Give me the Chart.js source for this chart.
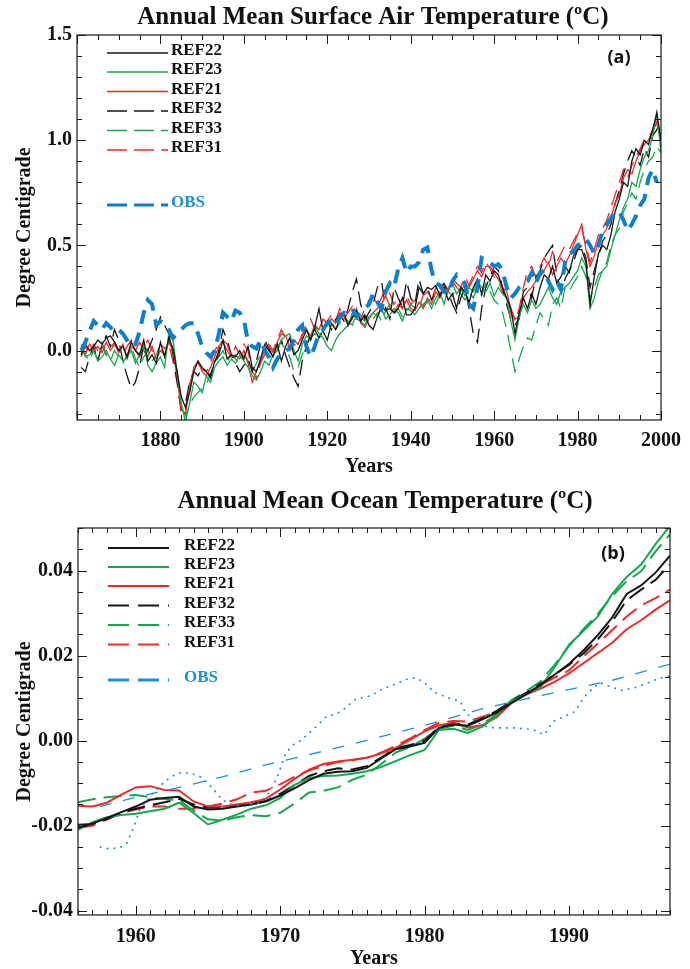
<!DOCTYPE html>
<html>
<head>
<meta charset="utf-8">
<script src="https://cdn.jsdelivr.net/npm/chart.js@4.4.1/dist/chart.umd.min.js"></script>
<style>
  html, body { margin: 0; padding: 0; background: #fff; }
  #wrap { position: relative; width: 690px; height: 969px; }
  .pane { position: absolute; left: 0; width: 690px; }
</style>
</head>
<body>
<div id="wrap">
  <div class="pane" style="top:0;height:480px"><canvas id="chartA" width="690" height="480" style="width:690px;height:480px"></canvas></div>
  <div class="pane" style="top:480px;height:489px"><canvas id="chartB" width="690" height="489" style="width:690px;height:489px"></canvas></div>
</div>
<script>
// ===== Panel (a): surface air temperature, annual values 1861-2000 =====
const startA = 1861;
const ref22A = [
  -0.02, 0.03, 0.0, 0.02, 0.05, 0.03, 0.06, 0.07, 0.04, 0.0,
  0.02, -0.03, 0.04, 0.0, -0.02, 0.05, -0.05, -0.02, -0.06, 0.04,
  -0.03, 0.06, 0.01, -0.1, -0.22, -0.27, -0.2, -0.1, -0.05, -0.08,
  -0.1, -0.13, -0.05, -0.02, 0.05, -0.04, -0.02, -0.03, 0.0, -0.04,
  0.02, -0.08, -0.1, -0.04, 0.03, 0.0, -0.03, 0.03, -0.05, 0.02,
  0.06, -0.02, 0.0, 0.05, 0.1, 0.05, 0.11, 0.2, 0.09, 0.05,
  0.13, 0.1, 0.15, 0.18, 0.12, 0.16, 0.19, 0.14, 0.17, 0.12,
  0.1, 0.16, 0.21, 0.19, 0.2, 0.18, 0.2, 0.25, 0.17, 0.17,
  0.2, 0.3, 0.27, 0.3, 0.29, 0.31, 0.26, 0.3, 0.24, 0.27,
  0.2, 0.3, 0.28, 0.23, 0.3, 0.34, 0.27, 0.36, 0.33, 0.38,
  0.36, 0.3, 0.25, 0.2, 0.08, 0.18, 0.25, 0.2, 0.27, 0.22,
  0.3, 0.36, 0.34, 0.4, 0.32, 0.35, 0.4, 0.37, 0.45, 0.48,
  0.48, 0.42, 0.22, 0.35, 0.46, 0.5, 0.48, 0.55, 0.66, 0.72,
  0.8, 0.78, 0.9, 0.96, 0.93, 1.0, 0.98, 1.05, 1.13, 1.0
];
const ref23A = [
  0.02, -0.03, -0.02, 0.0, -0.05, -0.03, 0.0, -0.04, -0.07, -0.02,
  -0.05, -0.03, 0.0, -0.06, -0.02, 0.03, -0.07, -0.1, -0.06, -0.03,
  -0.08, 0.08, 0.05, -0.1, -0.25, -0.34, -0.25, -0.15, -0.17, -0.2,
  -0.12, -0.15, -0.08, -0.05, -0.03, -0.07, -0.04, -0.06, -0.02, -0.05,
  -0.08, -0.12, -0.14, -0.1, -0.05, -0.07, -0.02, 0.0, 0.05, 0.07,
  0.08, 0.0, -0.05, 0.03, 0.07, 0.05, 0.12, 0.08, 0.06, 0.02,
  0.0, 0.05, 0.08, 0.1, 0.12, 0.18, 0.15, 0.14, 0.12, 0.16,
  0.18, 0.16, 0.2, 0.15, 0.17, 0.2, 0.18, 0.14, 0.2, 0.19,
  0.17, 0.2, 0.22, 0.24, 0.2, 0.25, 0.28, 0.22, 0.3, 0.32,
  0.27, 0.3, 0.26, 0.3, 0.28, 0.33, 0.3, 0.28, 0.32, 0.26,
  0.3, 0.27, 0.25, 0.14, 0.05, 0.16, 0.22, 0.18, 0.24, 0.2,
  0.22, 0.26, 0.3, 0.25, 0.22, 0.28, 0.3, 0.32, 0.35, 0.38,
  0.44, 0.4, 0.2, 0.25, 0.33, 0.38, 0.4, 0.48, 0.55, 0.62,
  0.68, 0.72, 0.8, 0.78, 0.86, 0.92, 0.95, 1.02, 1.13, 0.94
];
const ref21A = [
  0.0, -0.02, 0.03, 0.0, 0.02, -0.01, 0.04, 0.0, 0.03, -0.01,
  0.03, -0.04, 0.02, 0.0, 0.04, 0.0, -0.03, 0.02, -0.04, 0.0,
  -0.02, 0.04, 0.0, -0.12, -0.28, -0.3, -0.18, -0.08, -0.05, -0.1,
  -0.12, -0.08, -0.03, 0.02, 0.05, 0.03, -0.03, -0.02, -0.04, 0.0,
  -0.06, -0.15, -0.1, -0.05, 0.0, 0.02, -0.01, 0.04, 0.08, 0.07,
  0.02, 0.05, 0.03, 0.08, 0.1, 0.07, 0.12, 0.1, 0.15, 0.13,
  0.15, 0.13, 0.18, 0.16, 0.12, 0.15, 0.2, 0.13, 0.11, 0.15,
  0.18, 0.2, 0.22, 0.26, 0.21, 0.18, 0.22, 0.2, 0.24, 0.2,
  0.19, 0.23, 0.2, 0.25, 0.22, 0.28, 0.25, 0.3, 0.28, 0.33,
  0.3, 0.28, 0.32, 0.3, 0.34, 0.38, 0.35, 0.4, 0.4, 0.37,
  0.34, 0.3, 0.28, 0.2, 0.15, 0.16, 0.25, 0.28, 0.3, 0.33,
  0.35, 0.38, 0.42, 0.36, 0.4, 0.44, 0.41, 0.45, 0.5, 0.55,
  0.6, 0.48, 0.4, 0.45, 0.52, 0.55, 0.58, 0.63, 0.7, 0.74,
  0.82, 0.86, 0.84, 0.9, 0.95, 0.98, 1.0, 1.05, 1.08, 1.0
];
const ref32A = [
  -0.08, -0.1, -0.03, 0.02, -0.05, 0.03, 0.07, 0.02, 0.1, 0.05,
  -0.05, -0.12, -0.18, -0.15, -0.08, 0.03, 0.0, 0.05, 0.1, 0.16,
  0.12, 0.08, -0.02, -0.15, -0.28, -0.25, -0.15, -0.1, -0.12, -0.08,
  -0.1, -0.12, -0.06, 0.0, 0.1, 0.05, -0.02, -0.06, -0.1, -0.07,
  -0.04, -0.1, -0.05, 0.03, 0.05, 0.01, -0.03, 0.0, 0.05, -0.02,
  -0.08, -0.13, -0.17, -0.05, 0.02, 0.08, 0.1, 0.06, 0.1, 0.14,
  0.1, 0.15, 0.17, 0.14, 0.2, 0.28, 0.34, 0.22, 0.15, 0.18,
  0.22, 0.3, 0.33, 0.2, 0.15, 0.3, 0.25, 0.21, 0.33, 0.25,
  0.22, 0.34, 0.27, 0.3, 0.24, 0.28, 0.3, 0.32, 0.28, 0.22,
  0.18, 0.25, 0.3, 0.2, 0.08, 0.04, 0.2, 0.3, 0.35, 0.4,
  0.38, 0.3, 0.22, 0.15, 0.12, 0.15, 0.28, 0.3, 0.25, 0.35,
  0.38, 0.44, 0.47, 0.5, 0.36, 0.28, 0.34, 0.38, 0.42, 0.48,
  0.5, 0.44, 0.3, 0.38, 0.45, 0.52, 0.55, 0.6, 0.7, 0.76,
  0.84, 0.9, 0.95, 0.92, 0.88, 0.96, 0.92, 1.02, 1.05, 1.1
];
const ref33A = [
  0.03, -0.02, -0.05, 0.0, -0.04, 0.02, -0.02, -0.05, 0.0, -0.03,
  -0.06, -0.02, 0.02, -0.04, -0.08, -0.03, 0.0, -0.05, -0.02, 0.03,
  -0.03, 0.05, 0.0, -0.12, -0.27, -0.31, -0.26, -0.22, -0.2, -0.18,
  -0.16, -0.11, -0.06, -0.03, 0.0, -0.05, -0.02, -0.04, -0.06, -0.02,
  -0.05, -0.1, -0.06, -0.02, 0.02, -0.03, 0.0, 0.02, 0.04, 0.0,
  -0.03, -0.1, -0.08, -0.02, 0.03, 0.06, 0.08, 0.05, 0.1, 0.12,
  0.14, 0.1, 0.13, 0.16, 0.14, 0.12, 0.18, 0.16, 0.14, 0.17,
  0.15, 0.18, 0.14, 0.19, 0.22, 0.17, 0.2, 0.16, 0.18, 0.22,
  0.2, 0.24, 0.21, 0.23, 0.25, 0.22, 0.27, 0.24, 0.28, 0.26,
  0.3, 0.27, 0.24, 0.28, 0.25, 0.3, 0.26, 0.32, 0.28, 0.24,
  0.22, 0.18, 0.1, 0.0, -0.1, -0.04, 0.02, 0.06, 0.05, 0.12,
  0.18, 0.15, 0.12, 0.22, 0.25, 0.2, 0.3, 0.28, 0.32, 0.35,
  0.4, 0.35, 0.25, 0.3, 0.36, 0.38, 0.42, 0.5, 0.55, 0.58,
  0.66, 0.7, 0.75, 0.72, 0.8, 0.86, 0.9, 0.92, 0.97, 0.94
];
const ref31A = [
  -0.03, 0.02, -0.02, 0.03, 0.0, 0.04, -0.02, 0.01, 0.04, 0.0,
  -0.02, 0.02, 0.05, 0.0, -0.03, 0.02, 0.05, 0.0, -0.02, 0.03,
  0.01, 0.03, -0.05, -0.15, -0.3, -0.28, -0.16, -0.1, -0.06, -0.09,
  -0.1, -0.06, 0.0, 0.03, 0.04, 0.0, -0.03, 0.02, -0.02, 0.03,
  0.0, -0.1, -0.13, -0.06, -0.02, 0.03, 0.0, 0.05, 0.1, 0.06,
  0.0, 0.03, 0.02, 0.07, 0.12, 0.15, 0.1, 0.13, 0.11, 0.14,
  0.17, 0.14, 0.2, 0.15, 0.18, 0.21, 0.17, 0.15, 0.2, 0.24,
  0.26, 0.21, 0.25, 0.3, 0.27, 0.22, 0.25, 0.2, 0.26, 0.22,
  0.24, 0.21, 0.26, 0.28, 0.24, 0.3, 0.27, 0.31, 0.29, 0.34,
  0.32, 0.3, 0.35, 0.31, 0.36, 0.4, 0.37, 0.42, 0.39, 0.35,
  0.33, 0.28, 0.25, 0.18, 0.14, 0.2, 0.3, 0.38, 0.4, 0.35,
  0.4, 0.44, 0.4, 0.47, 0.42, 0.46, 0.5, 0.48, 0.52, 0.56,
  0.58, 0.5, 0.42, 0.48, 0.55, 0.58, 0.62, 0.68, 0.74, 0.8,
  0.86, 0.82, 0.88, 0.92, 0.96, 1.0, 1.02, 1.04, 1.09, 1.05
];
// observations 1861-1999
const obsA = [
  0.0, 0.04, 0.09, 0.14, 0.12, 0.1, 0.13, 0.11, 0.09, 0.1,
  0.08, 0.05, 0.02, 0.03, 0.09, 0.18, 0.24, 0.22, 0.12, 0.14,
  0.13, 0.1, 0.06, 0.08, 0.1, 0.12, 0.13, 0.13, 0.08, 0.02,
  -0.01, -0.03, 0.0, 0.08, 0.18, 0.16, 0.14, 0.19, 0.18, 0.15,
  0.04, 0.02, 0.01, 0.05, 0.0, -0.03, -0.08, -0.04, -0.01, 0.0,
  0.01, 0.05, 0.1, 0.12, 0.02, -0.03, 0.02, 0.08, 0.1, 0.13,
  0.14, 0.12, 0.16, 0.18, 0.18, 0.2, 0.16, 0.18, 0.2, 0.22,
  0.27, 0.23, 0.2, 0.28, 0.32, 0.3, 0.39, 0.44, 0.37, 0.4,
  0.4, 0.42, 0.48, 0.49, 0.38, 0.32, 0.31, 0.28, 0.27, 0.33,
  0.36, 0.34, 0.32, 0.22, 0.2, 0.3, 0.44, 0.43, 0.42, 0.4,
  0.41, 0.38, 0.3, 0.25, 0.27, 0.3, 0.32, 0.33, 0.37, 0.32,
  0.37, 0.38, 0.33, 0.29, 0.33, 0.29, 0.42, 0.46, 0.47, 0.5,
  0.51, 0.53, 0.5, 0.46, 0.5, 0.57, 0.6, 0.63, 0.66, 0.66,
  0.62, 0.57, 0.6, 0.64, 0.69, 0.72, 0.82, 0.86, 0.8
];
const xTicksA = [1880, 1900, 1920, 1940, 1960, 1980, 2000];
const yTicksA = [0.0, 0.5, 1.0, 1.5];

// ===== Panel (b): ocean temperature, annual values 1956-1997 =====
const startB = 1956;
const ref22B = [
  -0.0205, -0.0195, -0.0182, -0.0168, -0.0155, -0.0139, -0.0135, -0.0132, -0.0155, -0.0162,
  -0.016, -0.0155, -0.015, -0.0143, -0.0129, -0.0112, -0.0093, -0.0078, -0.0073, -0.0072,
  -0.0064, -0.0042, -0.002, -0.0014, -0.0005, 0.003, 0.0038, 0.0035, 0.005, 0.0066,
  0.0088, 0.0108, 0.013, 0.0155, 0.018, 0.0212, 0.0248, 0.029, 0.0345, 0.0365,
  0.0395, 0.0435
];
const ref23B = [
  -0.021, -0.0192, -0.018, -0.0175, -0.0172, -0.0166, -0.016, -0.0146, -0.017, -0.0197,
  -0.0186, -0.0174, -0.016, -0.0152, -0.0135, -0.0104, -0.0088, -0.0083, -0.0082, -0.0078,
  -0.0072, -0.0062, -0.0048, -0.0034, -0.0022, 0.0025, 0.0028, 0.0018, 0.0033, 0.006,
  0.0092, 0.0108, 0.0125, 0.0172, 0.0225, 0.0258, 0.0292, 0.0345, 0.0385, 0.0414,
  0.0462, 0.0505
];
const ref21B = [
  -0.0153, -0.0155, -0.0146, -0.0127, -0.011, -0.0107, -0.0116, -0.0117, -0.0143, -0.0155,
  -0.0155, -0.015, -0.0145, -0.0137, -0.0115, -0.009, -0.0068, -0.0055, -0.0049, -0.0045,
  -0.004, -0.003, -0.0017, 0.0002, 0.0022, 0.0036, 0.0042, 0.0031, 0.0036, 0.0055,
  0.0088, 0.0108, 0.0122, 0.0138, 0.0158, 0.0182, 0.0206, 0.023, 0.0262, 0.0283,
  0.0308, 0.033
];
const ref32B = [
  -0.0198, -0.0196, -0.0185, -0.017, -0.016, -0.0152, -0.0145, -0.0137, -0.015, -0.0158,
  -0.0156, -0.0152, -0.0148, -0.0142, -0.0125, -0.0105, -0.0083, -0.0072, -0.0065, -0.0068,
  -0.006, -0.004, -0.0018, -0.001, 0.0, 0.0032, 0.004, 0.0038, 0.0052, 0.007,
  0.0092, 0.0112, 0.0133, 0.0155, 0.0178, 0.0205, 0.0238, 0.028, 0.033, 0.0355,
  0.0378, 0.0415
];
const ref33B = [
  -0.0145, -0.0138, -0.0133, -0.013, -0.0128, -0.0133, -0.0137, -0.014, -0.0165, -0.0185,
  -0.0188, -0.018, -0.0175, -0.0178, -0.017, -0.0148, -0.0122, -0.0118, -0.011, -0.0092,
  -0.008, -0.0055, -0.0028, -0.0015, 0.0005, 0.0028, 0.0035, 0.0025, 0.0038, 0.0062,
  0.0095, 0.0115, 0.0138, 0.0178, 0.0222, 0.0262, 0.0298, 0.034, 0.0375, 0.0398,
  0.0445, 0.0485
];
const ref31B = [
  -0.0205, -0.02, -0.0185, -0.017, -0.0162, -0.0155, -0.0155, -0.016, -0.016, -0.0155,
  -0.0148, -0.0138, -0.0122, -0.0118, -0.0103, -0.0085, -0.007, -0.006, -0.005, -0.0046,
  -0.004, -0.0028, -0.0012, 0.0005, 0.0025, 0.0042, 0.0046, 0.0045, 0.0056, 0.0068,
  0.009, 0.011, 0.013, 0.0148, 0.0165, 0.0198, 0.0228, 0.026, 0.0292, 0.0318,
  0.0335, 0.0355
];
// observed ocean: trend (dashed) and series (dotted), read at the years given
const obsTrendYears = [1957.5, 1960, 1963, 1966, 1969, 1972, 1975, 1978, 1981, 1984, 1987, 1990, 1993, 1997];
const obsTrendB = [-0.0155, -0.0133, -0.011, -0.0085, -0.0057, -0.0033, -0.0008, 0.0018, 0.0045, 0.0075, 0.0098, 0.012, 0.0142, 0.018];
const obsDotYears = [
  1957.5, 1958.2, 1959.0, 1959.4, 1959.9, 1960.3, 1961.1, 1962.0, 1962.7, 1963.2,
  1963.9, 1964.6, 1965.4, 1966.0, 1966.8, 1967.7, 1968.6, 1969.3, 1969.8, 1970.4,
  1970.9, 1971.5, 1972.4, 1973.1, 1974.2, 1975.2, 1976.3, 1977.0, 1977.9, 1978.7,
  1979.4, 1980.0, 1980.7, 1981.6, 1982.5, 1982.8, 1983.5, 1984.3, 1984.8, 1986.2,
  1987.5, 1988.3, 1988.9, 1989.6, 1990.4, 1991.0, 1991.7, 1992.2, 1993.0, 1993.7,
  1994.6, 1995.5, 1996.2, 1997.0
];
const obsDotB = [
  -0.025, -0.0255, -0.025, -0.024, -0.02, -0.016, -0.0127, -0.0096, -0.008, -0.0075,
  -0.0078, -0.0087, -0.0115, -0.014, -0.0152, -0.0155, -0.0146, -0.012, -0.0085, -0.0029,
  -0.001, 0.0002, 0.003, 0.0054, 0.0068, 0.0097, 0.0106, 0.012, 0.0132, 0.0144,
  0.0148, 0.0136, 0.0113, 0.0101, 0.0092, 0.0068, 0.0045, 0.0033, 0.003, 0.003,
  0.0026, 0.0014, 0.0045, 0.0056, 0.0068, 0.01, 0.0125, 0.0136, 0.0125, 0.0118,
  0.0125, 0.0136, 0.0146, 0.0152
];
const xTicksB = [1960, 1970, 1980, 1990];
const yTicksB = [-0.04, -0.02, 0.0, 0.02, 0.04];

const names = ['REF22', 'REF23', 'REF21', 'REF32', 'REF33', 'REF31'];

// ===== Estilo =====
const SERIF = "'Liberation Serif', 'Times New Roman', serif";
const BLACK = '#151515', GREEN = '#14a84c', RED = '#ec2a2a', BLUE = '#0c7fcf', BLUE2 = '#1c8fd8';
const serif = size => ({ family: SERIF, size, weight: 'bold' });

const annual = (start, vals) => vals.map((v, i) => ({ x: start + i, y: v }));
const pairs = (xs, vals) => vals.map((v, i) => ({ x: xs[i], y: v }));

function line(label, data, color, width, dash, order) {
  return { label, data, borderColor: color, borderWidth: width, borderDash: dash || [],
           pointRadius: 0, tension: 0, fill: false, order: order == null ? 1 : order };
}

function deco(cfg) {
  return {
    id: 'deco',
    afterDraw(chart) {
      const { ctx, chartArea: a, scales: { x, y } } = chart;
      ctx.save();
      ctx.setLineDash([]);
      ctx.strokeStyle = '#1a1a1a';
      ctx.lineWidth = 1.2;
      ctx.strokeRect(a.left, a.top, a.right - a.left, a.bottom - a.top);

      // ticks hacia adentro, en los cuatro lados
      ctx.lineWidth = 1;
      ctx.beginPath();
      const xr = Math.round(cfg.xMajor / cfg.xMinor);
      for (let k = Math.ceil(x.min / cfg.xMinor - 1e-9); k * cfg.xMinor <= x.max + 1e-9; k++) {
        const px = Math.round(x.getPixelForValue(k * cfg.xMinor)) + 0.5;
        const len = (((k % xr) + xr) % xr === 0) ? 9 : 5;
        ctx.moveTo(px, a.bottom); ctx.lineTo(px, a.bottom - len);
        ctx.moveTo(px, a.top); ctx.lineTo(px, a.top + len);
      }
      const yr = Math.round(cfg.yMajor / cfg.yMinor);
      for (let k = Math.ceil(y.min / cfg.yMinor - 1e-9); k * cfg.yMinor <= y.max + 1e-9; k++) {
        const py = Math.round(y.getPixelForValue(k * cfg.yMinor)) + 0.5;
        const len = (((k % yr) + yr) % yr === 0) ? 9 : 5;
        ctx.moveTo(a.left, py); ctx.lineTo(a.left + len, py);
        ctx.moveTo(a.right, py); ctx.lineTo(a.right - len, py);
      }
      ctx.stroke();

      // título
      ctx.fillStyle = '#111';
      ctx.textAlign = 'center';
      ctx.textBaseline = 'alphabetic';
      ctx.font = `bold 25px ${SERIF}`;
      ctx.fillText(cfg.title, cfg.titleX, cfg.titleY);

      // letra del panel
      ctx.font = "bold 18px 'Open Sans', sans-serif";
      ctx.fillText(cfg.letter, cfg.letterX, cfg.letterY);

      // leyenda
      ctx.textAlign = 'left';
      ctx.font = `bold 17px ${SERIF}`;
      cfg.legend.forEach(e => {
        ctx.strokeStyle = e.color;
        ctx.lineWidth = e.width;
        ctx.setLineDash(e.dash || []);
        ctx.beginPath();
        ctx.moveTo(cfg.legX1, e.y - 2);
        ctx.lineTo(cfg.legX2, e.y - 2);
        ctx.stroke();
        ctx.fillStyle = e.text || '#111';
        ctx.fillText(e.label, cfg.legTX, e.y);
      });
      ctx.restore();
    }
  };
}

function options(p) {
  return {
    responsive: false,
    animation: false,
    events: [],
    layout: { padding: { top: p.top, right: 20, left: 0, bottom: 0 } },
    plugins: { legend: { display: false }, tooltip: { enabled: false }, title: { display: false } },
    scales: {
      x: {
        type: 'linear', min: p.xMin, max: p.xMax,
        afterBuildTicks: s => { s.ticks = p.xTicks.map(v => ({ value: v })); },
        afterFit: s => { s.height = p.xH; },
        grid: { display: false, drawTicks: false },
        border: { display: false },
        ticks: { font: serif(20), color: '#111', padding: p.xPad, autoSkip: false, maxRotation: 0, callback: v => String(v) },
        title: { display: true, text: 'Years', font: serif(20), color: '#111', padding: { top: 0, bottom: p.yearsPad } }
      },
      y: {
        type: 'linear', min: p.yMin, max: p.yMax,
        afterBuildTicks: s => { s.ticks = p.yTicks.map(v => ({ value: v })); },
        afterFit: s => { s.width = p.yW; },
        grid: { display: false, drawTicks: false },
        border: { display: false },
        ticks: { font: serif(20), color: '#111', padding: 5, autoSkip: false, callback: v => v.toFixed(p.dec) },
        title: { display: true, text: 'Degree Centigrade', font: serif(20), color: '#111', padding: { top: 13, bottom: 0 } }
      }
    }
  };
}

// ===== Panel (a) =====
const dashA = [16, 8];
new Chart(document.getElementById('chartA'), {
  type: 'line',
  data: {
    datasets: [
      line('OBS', annual(startA, obsA), BLUE, 4, [14, 9], 0),
      line(names[0], annual(startA, ref22A), BLACK, 1.3),
      line(names[1], annual(startA, ref23A), GREEN, 1.3),
      line(names[2], annual(startA, ref21A), RED, 1.3),
      line(names[3], annual(startA, ref32A), BLACK, 1.3, dashA),
      line(names[4], annual(startA, ref33A), GREEN, 1.3, dashA),
      line(names[5], annual(startA, ref31A), RED, 1.3, dashA)
    ]
  },
  options: options({ top: 35, xMin: 1860, xMax: 2000, xTicks: xTicksA, xH: 60, xPad: 9, yearsPad: 1,
                     yMin: -0.33, yMax: 1.5, yTicks: yTicksA, yW: 77, dec: 1 }),
  plugins: [deco({
    xMinor: 5, xMajor: 20, yMinor: 0.1, yMajor: 0.5,
    title: 'Annual Mean Surface Air Temperature (ºC)', titleX: 373, titleY: 24,
    letter: '(a)', letterX: 619, letterY: 63,
    legX1: 107, legX2: 168, legTX: 171,
    legend: [
      { label: names[0], color: BLACK, width: 1.3, y: 55 },
      { label: names[1], color: GREEN, width: 1.3, y: 74 },
      { label: names[2], color: RED, width: 1.3, y: 93.5 },
      { label: names[3], color: BLACK, width: 1.3, dash: [20, 7], y: 113 },
      { label: names[4], color: GREEN, width: 1.3, dash: [20, 7], y: 132.5 },
      { label: names[5], color: RED, width: 1.3, dash: [20, 7], y: 152 },
      { label: 'OBS', color: BLUE, width: 3, dash: [20, 7], y: 207, text: BLUE2 }
    ]
  })]
});

// ===== Panel (b) =====
const dashB = [18, 8];
new Chart(document.getElementById('chartB'), {
  type: 'line',
  data: {
    datasets: [
      line('OBS trend', pairs(obsTrendYears, obsTrendB), BLUE2, 1.3, [12, 12], 0),
      line('OBS', pairs(obsDotYears, obsDotB), BLUE2, 1.6, [2, 5], 0),
      line(names[0], annual(startB, ref22B), BLACK, 2),
      line(names[1], annual(startB, ref23B), GREEN, 2),
      line(names[2], annual(startB, ref21B), RED, 2),
      line(names[3], annual(startB, ref32B), BLACK, 2, dashB),
      line(names[4], annual(startB, ref33B), GREEN, 2, dashB),
      line(names[5], annual(startB, ref31B), RED, 2, dashB)
    ]
  },
  options: options({ top: 48, xMin: 1956, xMax: 1997, xTicks: xTicksB, xH: 54, xPad: 10, yearsPad: -2,
                     yMin: -0.041, yMax: 0.05, yTicks: yTicksB, yW: 78, dec: 2 }),
  plugins: [deco({
    xMinor: 1, xMajor: 10, yMinor: 0.005, yMajor: 0.02,
    title: 'Annual Mean Ocean Temperature (ºC)', titleX: 385, titleY: 28,
    letter: '(b)', letterX: 613, letterY: 79,
    legX1: 108, legX2: 169, legTX: 184,
    legend: [
      { label: names[0], color: BLACK, width: 2, y: 70 },
      { label: names[1], color: GREEN, width: 2, y: 89 },
      { label: names[2], color: RED, width: 2, y: 108 },
      { label: names[3], color: BLACK, width: 2, dash: [21, 9], y: 127.5 },
      { label: names[4], color: GREEN, width: 2, dash: [21, 9], y: 147 },
      { label: names[5], color: RED, width: 2, dash: [21, 9], y: 166.5 },
      { label: 'OBS', color: BLUE2, width: 3, dash: [21, 9], y: 202, text: BLUE2 }
    ]
  })]
});
</script>
</body>
</html>
